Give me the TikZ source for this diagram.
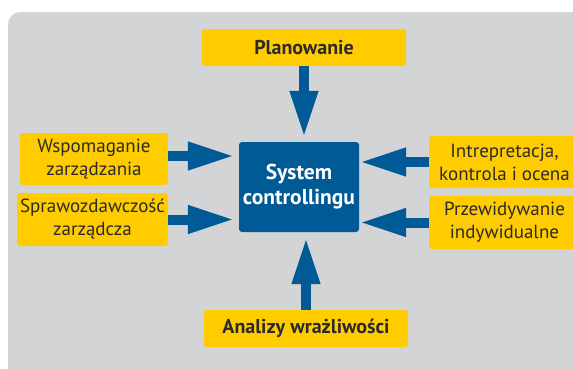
\documentclass[tikz,border=0pt]{standalone}
\usepackage{fontspec}
\setmainfont{PT Sans}
\usetikzlibrary{arrows.meta}
\definecolor{bg}{HTML}{D3D4D6}
\definecolor{ylw}{HTML}{FFCC00}
\definecolor{blu}{HTML}{005A96}
\definecolor{txt}{HTML}{2B2A29}
\tikzset{
  ybox/.style={fill=ylw, rounded corners=3pt, align=center, text=txt, inner sep=0pt,
    font=\fontsize{19}{23}\selectfont},
  bbox/.style={ybox, font=\fontsize{20}{23}\selectfont\bfseries},
  sysbox/.style={fill=blu, rounded corners=3pt, align=center, text=white, inner sep=0pt,
    font=\fontsize{21.5}{25}\selectfont\bfseries},
  bigarrow/.style={draw=blu, line width=10pt, -{Triangle[width=26pt,length=47pt]}}
}
\begin{document}
\begin{tikzpicture}[x=1pt,y=-1pt]
\useasboundingbox (0,0) rectangle (573,368);
\fill[bg, rounded corners=12pt] (8,12) rectangle (600,390);
\node[bbox, minimum width=204pt, minimum height=37pt] (plan) at (304,47.5) {Planowanie};
\node[sysbox, minimum width=120pt, minimum height=90pt] (sys) at (299,187) {System\\controllingu};
\node[ybox, minimum width=148pt, minimum height=52pt] (wsp) at (94,159) {Wspomaganie\\zarządzania};
\node[ybox, minimum width=151pt, minimum height=53pt] (spr) at (92.5,219.5) {Sprawozdawczość\\zarządcza};
\node[ybox, minimum width=151pt, minimum height=52pt] (int) at (504.5,162) {Intrepretacja,\\kontrola i ocena};
\node[ybox, minimum width=151pt, minimum height=53pt] (prz) at (504.5,222.5) {Przewidywanie\\indywidualne};
\node[bbox, minimum width=204pt, minimum height=37pt] (ana) at (306,328.5) {Analizy wrażliwości};
\draw[bigarrow, shorten >=4pt] (plan.south) -- (plan.south |- sys.north);
\draw[bigarrow, shorten >=5pt] (ana.north) -- (ana.north |- sys.south);
\draw[bigarrow, shorten >=4pt] ([yshift=3pt]wsp.east) -- ([yshift=3pt]wsp.east -| sys.west);
\draw[bigarrow, shorten >=4pt] (spr.east) -- (spr.east -| sys.west);
\draw[bigarrow] (int.west) -- (int.west -| sys.east);
\draw[bigarrow] (prz.west) -- (prz.west -| sys.east);
\end{tikzpicture}
\end{document}
